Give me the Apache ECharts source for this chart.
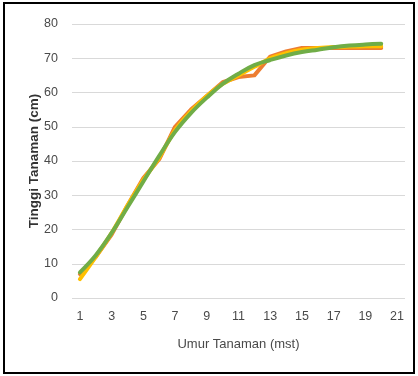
<!DOCTYPE html>
<html><head><meta charset="utf-8">
<script src="https://cdn.jsdelivr.net/npm/echarts@6/dist/echarts.min.js"></script>
<style>html,body{margin:0;padding:0;background:#fff}#c{width:418px;height:376px}</style>
</head><body><div id="c"></div>
<script>
const categories = ['1','2','3','4','5','6','7','8','9','10','11','12','13','14','15','16','17','18','19','20','21'];
const seriesOrange = [7, 12, 18.5, 27, 35, 40.5, 50, 55, 59, 63, 64.5, 65, 70.5, 72, 73, 73, 73, 73, 73, 73];
const seriesYellow = [5.5, 12, 19, 27, 34.5, 41, 49, 54.5, 59, 62.5, 65, 67.5, 70, 71.5, 72.5, 73, 73.3, 73.4, 73.5, 73.5];
const seriesGreen = [7.5, 12.5, 19, 26.5, 34, 41.5, 48.5, 54, 58.5, 62.5, 65.5, 68, 69.5, 70.8, 71.8, 72.5, 73.2, 73.7, 74, 74.2];
const yTicks = {min: 0, max: 80, interval: 10};
const xTitle = 'Umur Tanaman (mst)';
const yTitle = 'Tinggi Tanaman (cm)';

const chart = echarts.init(document.getElementById('c'), null, {renderer: 'canvas'});
const font = 'Liberation Sans';
function line(name, data, color, smooth) {
  return {name, type: 'line', data, symbol: 'none', smooth,
    lineStyle: {color, width: 4, cap: 'round', join: 'round'}, itemStyle: {color}};
}
chart.setOption({
  animation: false,
  backgroundColor: '#fff',
  grid: {left: 72, right: 13, top: 24, bottom: 78},
  xAxis: {
    type: 'category', data: categories, boundaryGap: true,
    axisLine: {show: false}, axisTick: {show: false},
    axisLabel: {interval: 1, color: '#4a4a4a', fontFamily: font, fontSize: 12.5, margin: 12},
    name: xTitle, nameLocation: 'middle', nameGap: 40, nameMoveOverlap: false,
    nameTextStyle: {color: '#4a4a4a', fontFamily: font, fontSize: 13}
  },
  yAxis: {
    type: 'value', min: yTicks.min, max: yTicks.max, interval: yTicks.interval,
    axisLine: {show: false}, axisTick: {show: false},
    splitLine: {lineStyle: {color: '#d9d9d9', width: 1}},
    axisLabel: {color: '#4a4a4a', fontFamily: font, fontSize: 12.5, margin: 14},
    name: yTitle, nameLocation: 'middle', nameGap: 31, nameMoveOverlap: false,
    nameTextStyle: {color: '#333', fontFamily: font, fontSize: 13.5, fontWeight: 'bold'}
  },
  series: [
    line('A', seriesOrange, '#ED7D31', false),
    line('B', seriesYellow, '#FFC000', 0.2),
    line('C', seriesGreen, '#70AD47', 0.4)
  ],
  graphic: [{type: 'rect', shape: {x: 4, y: 3, width: 410, height: 370},
    style: {fill: 'none', stroke: '#000', lineWidth: 2}, silent: true}]
});
</script></body></html>
